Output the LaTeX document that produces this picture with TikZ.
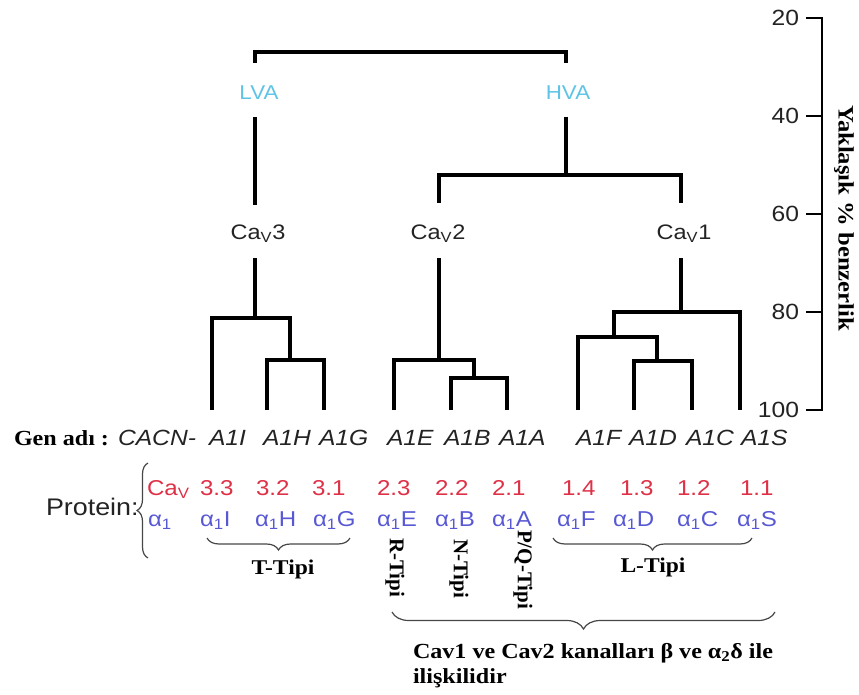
\documentclass[tikz,border=0pt]{standalone}
\usepackage{fontspec}
\usepackage{graphicx}
\setmainfont{Liberation Serif}
\setsansfont{Liberation Sans}
\usetikzlibrary{decorations.pathreplacing}
\definecolor{cred}{RGB}{222,48,70}
\definecolor{cblue}{RGB}{88,88,212}
\definecolor{ccyan}{RGB}{95,195,230}
\definecolor{cgray}{RGB}{35,35,35}
\definecolor{cbrace}{RGB}{70,70,70}
\newcommand\hs[1]{\scalebox{1.12}[1]{#1}}
\newcommand\fsz[1]{\fontsize{#1}{#1}\selectfont}
\begin{document}
\begin{tikzpicture}[x=1pt,y=-1pt,
  tree/.style={line width=3.2pt, line join=miter, draw=black},
  txt/.style={inner sep=0pt, outer sep=0pt},
  gene/.style={txt, anchor=base west, font=\sffamily\itshape\fsz{22}, text=cgray},
  rnum/.style={txt, anchor=base west, font=\sffamily\fsz{21.5}, text=cred},
  bnum/.style={txt, anchor=base west, font=\sffamily\fsz{21.5}, text=cblue},
  clab/.style={txt, anchor=base, font=\sffamily\fsz{21}, text=cgray},
  vlab/.style={txt, anchor=base, font=\sffamily\fsz{20}, text=ccyan},
  bser/.style={txt, font=\bfseries\fsz{21}, text=black},
  tick/.style={txt, anchor=east, font=\sffamily\fsz{22}, text=cgray},
  brc/.style={decorate, decoration={brace, amplitude=#1}, line width=1.2pt, draw=cbrace},
  brc/.default=12
]
\useasboundingbox (0,0) rectangle (859,695);

% ---- leaves
\coordinate (L1) at (212,410);
\coordinate (L2) at (267,410);
\coordinate (L3) at (324,410);
\coordinate (L4) at (394,410);
\coordinate (L5) at (451,410);
\coordinate (L6) at (507,410);
\coordinate (L7) at (578,410);
\coordinate (L8) at (634,410);
\coordinate (L9) at (692,410);
\coordinate (L10) at (740,410);

% ---- junctions
\coordinate (c3a) at (255,318);
\coordinate (c3b) at (290,360);
\coordinate (c2a) at (439,360);
\coordinate (c2b) at (474,378);
\coordinate (c1a) at (681,312);
\coordinate (c1b) at (614,337);
\coordinate (c1c) at (657,361);
\coordinate (c3top) at (255,258);
\coordinate (c2top) at (439,258);
\coordinate (c1top) at (681,258);
\coordinate (c2s) at (439,203);
\coordinate (c1s) at (681,203);
\coordinate (hvaj) at (566,175);
\coordinate (hvatop) at (566,117);
\coordinate (lvatop) at (255,117);
\coordinate (lvabot) at (255,205);
\coordinate (lvab) at (255,63);
\coordinate (hvab) at (566,63);
\coordinate (rootj) at (410,52);

% ---- tree
\draw[tree] (lvab) |- (rootj) -| (hvab);
\draw[tree] (lvatop) -- (lvabot);
\draw[tree] (hvatop) -- (hvaj);
\draw[tree] (c2s) |- (hvaj) -| (c1s);
\draw[tree] (c3top) -- (c3a);
\draw[tree] (L1) |- (c3a) -| (c3b);
\draw[tree] (L2) |- (c3b) -| (L3);
\draw[tree] (c2top) -- (c2a);
\draw[tree] (L4) |- (c2a) -| (c2b);
\draw[tree] (L5) |- (c2b) -| (L6);
\draw[tree] (c1top) -- (c1a);
\draw[tree] (c1b) |- (c1a) -| (L10);
\draw[tree] (L7) |- (c1b) -| (c1c);
\draw[tree] (L8) |- (c1c) -| (L9);

% ---- tree labels
\node[vlab] (lva) at (259,100) {\hs{LVA}};
\node[vlab] (hva) at (568,100) {\hs{HVA}};
\node[clab] (cav3) at (258,239) {\hs{Ca\textsubscript{V}3}};
\node[clab] (cav2) at (438,239) {\hs{Ca\textsubscript{V}2}};
\node[clab] (cav1) at (684,239) {\hs{Ca\textsubscript{V}1}};

% ---- axis
\coordinate (ax20) at (822,18);
\coordinate (ax40) at (822,116);
\coordinate (ax60) at (822,214);
\coordinate (ax80) at (822,312);
\coordinate (ax100) at (822,410);
\draw[line width=2.8pt, line join=miter] ([xshift=-16pt]ax20) -- (ax20) -- (ax100) -- ([xshift=-16pt]ax100);
\foreach \t in {ax40,ax60,ax80} \draw[line width=2.8pt] ([xshift=-16pt]\t) -- (\t);
\node[tick] (t20) at (799,18) {\hs{20}};
\node[tick] (t40) at (799,116) {\hs{40}};
\node[tick] (t60) at (799,214) {\hs{60}};
\node[tick] (t80) at (799,312) {\hs{80}};
\node[tick] (t100) at (799,410) {\hs{100}};
\node[txt, rotate=-90, font=\bfseries\fsz{22}] (axlab) at (844,218) {\hs{Yaklaşık \% benzerlik}};

% ---- gene row
\node[bser, anchor=base west, font=\bfseries\fsz{21.5}] (gen) at (14,445) {\hs{Gen adı :}};
\node[gene] (cacn) at (118,445) {\hs{CACN-}};
\node[gene] (g1) at (209,445) {\hs{A1I}};
\node[gene] (g2) at (263,445) {\hs{A1H}};
\node[gene] (g3) at (319,445) {\hs{A1G}};
\node[gene] (g4) at (387,445) {\hs{A1E}};
\node[gene] (g5) at (444,445) {\hs{A1B}};
\node[gene] (g6) at (499,445) {\hs{A1A}};
\node[gene] (g7) at (576,445) {\hs{A1F}};
\node[gene] (g8) at (629,445) {\hs{A1D}};
\node[gene] (g9) at (686,445) {\hs{A1C}};
\node[gene] (g10) at (741,445) {\hs{A1S}};

% ---- protein rows
\node[txt, anchor=base west, font=\sffamily\fsz{24}, text=cgray] (prot) at (46,515) {\hs{Protein:}};
\draw[brc=11] (148,558) -- (148,463);
\node[rnum] (r0) at (147,495) {\hs{Ca\textsubscript{V}}};
\node[rnum] (r1) at (200,495) {\hs{3.3}};
\node[rnum] (r2) at (256,495) {\hs{3.2}};
\node[rnum] (r3) at (312,495) {\hs{3.1}};
\node[rnum] (r4) at (377,495) {\hs{2.3}};
\node[rnum] (r5) at (435,495) {\hs{2.2}};
\node[rnum] (r6) at (492,495) {\hs{2.1}};
\node[rnum] (r7) at (562,495) {\hs{1.4}};
\node[rnum] (r8) at (620,495) {\hs{1.3}};
\node[rnum] (r9) at (677,495) {\hs{1.2}};
\node[rnum] (r10) at (740,495) {\hs{1.1}};
\node[bnum] (b0) at (148,526) {\hs{α\textsubscript{1}}};
\node[bnum] (b1) at (200,526) {\hs{α\textsubscript{1}I}};
\node[bnum] (b2) at (255,526) {\hs{α\textsubscript{1}H}};
\node[bnum] (b3) at (313,526) {\hs{α\textsubscript{1}G}};
\node[bnum] (b4) at (377,526) {\hs{α\textsubscript{1}E}};
\node[bnum] (b5) at (435,526) {\hs{α\textsubscript{1}B}};
\node[bnum] (b6) at (492,526) {\hs{α\textsubscript{1}A}};
\node[bnum] (b7) at (557,526) {\hs{α\textsubscript{1}F}};
\node[bnum] (b8) at (613,526) {\hs{α\textsubscript{1}D}};
\node[bnum] (b9) at (677,526) {\hs{α\textsubscript{1}C}};
\node[bnum] (b10) at (737,526) {\hs{α\textsubscript{1}S}};

% ---- type braces
\draw[brc=12, decoration={mirror}] (207,538) -- (350,538);
\node[bser, anchor=base] (ttip) at (283,574) {\hs{T-Tipi}};
\draw[brc=12, decoration={mirror}] (553,538) -- (752,538);
\node[bser, anchor=base] (ltip) at (653,572) {\hs{L-Tipi}};
\node[bser, rotate=-90, anchor=west] (rtip) at (395,538) {R-Tipi};
\node[bser, rotate=-90, anchor=west] (ntip) at (459,539) {N-Tipi};
\node[bser, rotate=-90, anchor=west] (pqtip) at (523,530) {P/Q-Tipi};

\draw[brc=17, decoration={mirror}] (392,612) -- (775,612);
\node[bser, anchor=base west, font=\bfseries\fsz{21.5}] (cavtxt) at (413,658) {\hs{Cav1 ve Cav2 kanalları β ve α\textsubscript{2}δ ile}};
\node[bser, anchor=base west, font=\bfseries\fsz{21.5}] (cavtxt2) at (413,683) {\hs{ilişkilidir}};
\end{tikzpicture}
\end{document}
